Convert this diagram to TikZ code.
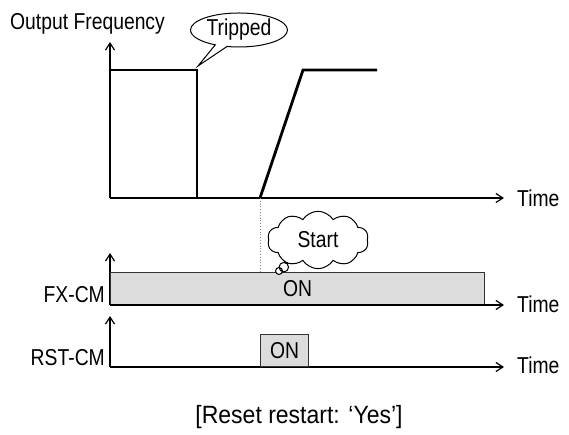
\documentclass[tikz,border=0pt]{standalone}
\usepackage{fontspec}
\setmainfont{Liberation Sans}[FakeStretch=0.84]
\usetikzlibrary{arrows.meta,shapes.callouts,shapes.symbols}
\definecolor{onfill}{HTML}{DCDCDC}
\definecolor{axisgray}{HTML}{333333}
\tikzset{
  lbl/.style={font=\fontsize{23}{26}\selectfont,inner sep=0pt},
  axis/.style={-{Straight Barb[length=7pt,width=9pt]},line width=1.2pt,draw=black},
  signal/.style={line width=2.8pt,line cap=butt,line join=miter},
  onbox/.style={draw=axisgray,fill=onfill,line width=1.2pt,lbl,inner sep=0pt},
  bubble/.style={draw,line width=1pt,fill=white,lbl}
}
\begin{document}
\begin{tikzpicture}[x=1pt,y=1pt]
\useasboundingbox (0,0) rectangle (569,435);
% output frequency
\coordinate (fo) at (110,237);
\coordinate (fy) at (110,393);
\coordinate (fx) at (504,237);
\draw[axis] (fo) -- (fy);
\draw[axis] (fo) -- (fx);
\node[lbl,anchor=west] (freq) at (10,411) {Output Frequency};
\node[lbl,anchor=west] (time1) at (517,237) {Time};
\draw[signal] (110,365) -- (197,365) -- (197,237);
\coordinate (rst) at (260,237);
\draw[signal] (rst) -- (303,365) -- (377,365);
\coordinate (trip) at (198,369);
\node[bubble,ellipse callout,minimum width=97pt,minimum height=34pt,
  callout absolute pointer={(trip)}] (tripped) at (239,405) {Tripped};
% FX-CM
\coordinate (xo) at (110,130);
\draw[axis] (xo) -- (110,182);
\node[onbox,minimum width=374pt,minimum height=32pt,anchor=south west] (fxon) at (xo) {ON};
\draw[axis] (xo) -- (504,130);
\node[lbl,anchor=base east] (fxlbl) at (105,132) {FX-CM};
\node[lbl,anchor=west] (time2) at (517,131) {Time};
\draw[dotted,line width=0.8pt,gray] (rst) -- (fxon.north -| rst);
\node[bubble,cloud callout,cloud puffs=10,cloud puff arc=115,aspect=2.3,
  inner xsep=0pt,inner ysep=7pt,
  callout pointer start size=12pt,callout pointer end size=7pt,callout pointer segments=2,
  callout absolute pointer={(279,164)}] (start) at (318,195) {Start};
% RST-CM
\coordinate (ro) at (110,68);
\draw[axis] (ro) -- (110,119);
\draw[axis] (ro) -- (504,68);
\node[onbox,minimum width=48pt,minimum height=32pt,anchor=south west] (rston) at (260,68) {ON};
\node[lbl,anchor=base east] (rstlbl) at (105,69) {RST-CM};
\node[lbl,anchor=west] (time3) at (517,70) {Time};
\node[lbl,font=\fontsize{25}{28}\selectfont\addfontfeature{FakeStretch=0.92}] (caption) at (299,18) {[Reset restart: ‘Yes’]};
\end{tikzpicture}
\end{document}
